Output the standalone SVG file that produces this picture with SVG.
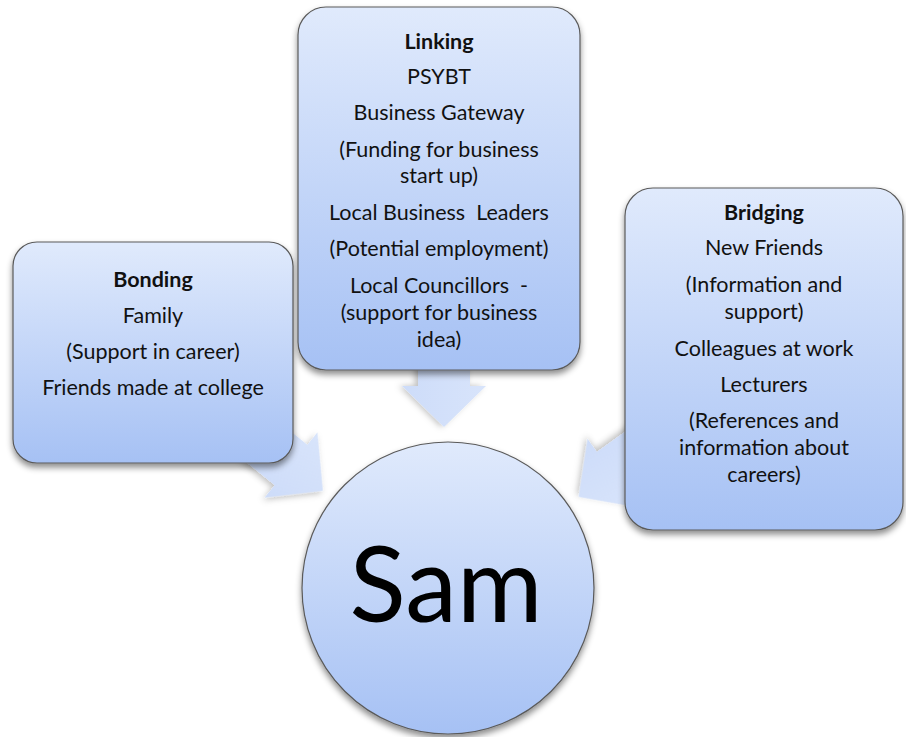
<svg xmlns="http://www.w3.org/2000/svg" width="906" height="737" viewBox="0 0 906 737">
  <defs>
    <linearGradient id="boxGrad" x1="0" y1="0" x2="0" y2="1">
      <stop offset="0" stop-color="#e0eafc"/>
      <stop offset="1" stop-color="#a6c1f4"/>
    </linearGradient>
    <linearGradient id="arrowGrad" x1="0" y1="0" x2="0" y2="1">
      <stop offset="0" stop-color="#d8e4fb"/>
      <stop offset="1" stop-color="#cddcf9"/>
    </linearGradient>
    <filter id="shadow" x="-20%" y="-20%" width="140%" height="140%">
      <feDropShadow dx="0" dy="4" stdDeviation="3" flood-color="#000" flood-opacity="0.45"/>
    </filter>
    <filter id="ashadow" x="-30%" y="-30%" width="160%" height="160%">
      <feDropShadow dx="0" dy="3" stdDeviation="3" flood-color="#000" flood-opacity="0.25"/>
    </filter>
    <path id="arrow" d="M-50,-26 L0,-26 L0,-42 L41,0 L0,42 L0,26 L-50,26 Z"/>
  </defs>
  <style>
    .box { fill: url(#boxGrad); stroke: #5a5a5a; stroke-width: 1.2; filter: url(#shadow); }
    .arr { fill: url(#arrowGrad); stroke: none; filter: url(#ashadow); }
    text { font-family: Lato, "Open Sans", "Liberation Sans", sans-serif; font-size: 21.5px; fill: #111; text-anchor: middle; }
    .b { font-weight: bold; }
    .big { font-size: 104px; fill: #000; }
  </style>

  <g id="connectors">
    <use href="#arrow" class="arr" transform="translate(291,465) rotate(39)"/>
    <use href="#arrow" class="arr" transform="translate(444,386) rotate(90)"/>
    <use href="#arrow" class="arr" transform="translate(612,473) rotate(144.4)"/>
  </g>

  <g id="bonding">
    <rect class="box" x="13" y="242" width="280" height="221" rx="24"/>
    <text class="b" x="153" y="287">Bonding</text>
    <text x="153" y="323">Family</text>
    <text x="153" y="359">(Support in career)</text>
    <text x="153" y="395">Friends made at college</text>
  </g>

  <g id="linking">
    <rect class="box" x="298" y="7" width="282" height="363" rx="28"/>
    <text class="b" x="439" y="49">Linking</text>
    <text x="439" y="84">PSYBT</text>
    <text x="439" y="120">Business Gateway</text>
    <text x="439" y="157">(Funding for business</text>
    <text x="439" y="183">start up)</text>
    <text x="439" y="220">Local Business&#160; Leaders</text>
    <text x="439" y="256">(Potential employment)</text>
    <text x="439" y="293">Local Councillors&#160; -</text>
    <text x="439" y="320">(support for business</text>
    <text x="439" y="347">idea)</text>
  </g>

  <g id="bridging">
    <rect class="box" x="625" y="188" width="278" height="342" rx="28"/>
    <text class="b" x="764" y="220">Bridging</text>
    <text x="764" y="255">New Friends</text>
    <text x="764" y="292">(Information and</text>
    <text x="764" y="319">support)</text>
    <text x="764" y="356">Colleagues at work</text>
    <text x="764" y="392">Lecturers</text>
    <text x="764" y="428">(References and</text>
    <text x="764" y="455">information about</text>
    <text x="764" y="482">careers)</text>
  </g>

  <g id="sam">
    <circle class="box" cx="448" cy="588" r="146"/>
    <text class="big" x="446" y="622">Sam</text>
  </g>
</svg>
